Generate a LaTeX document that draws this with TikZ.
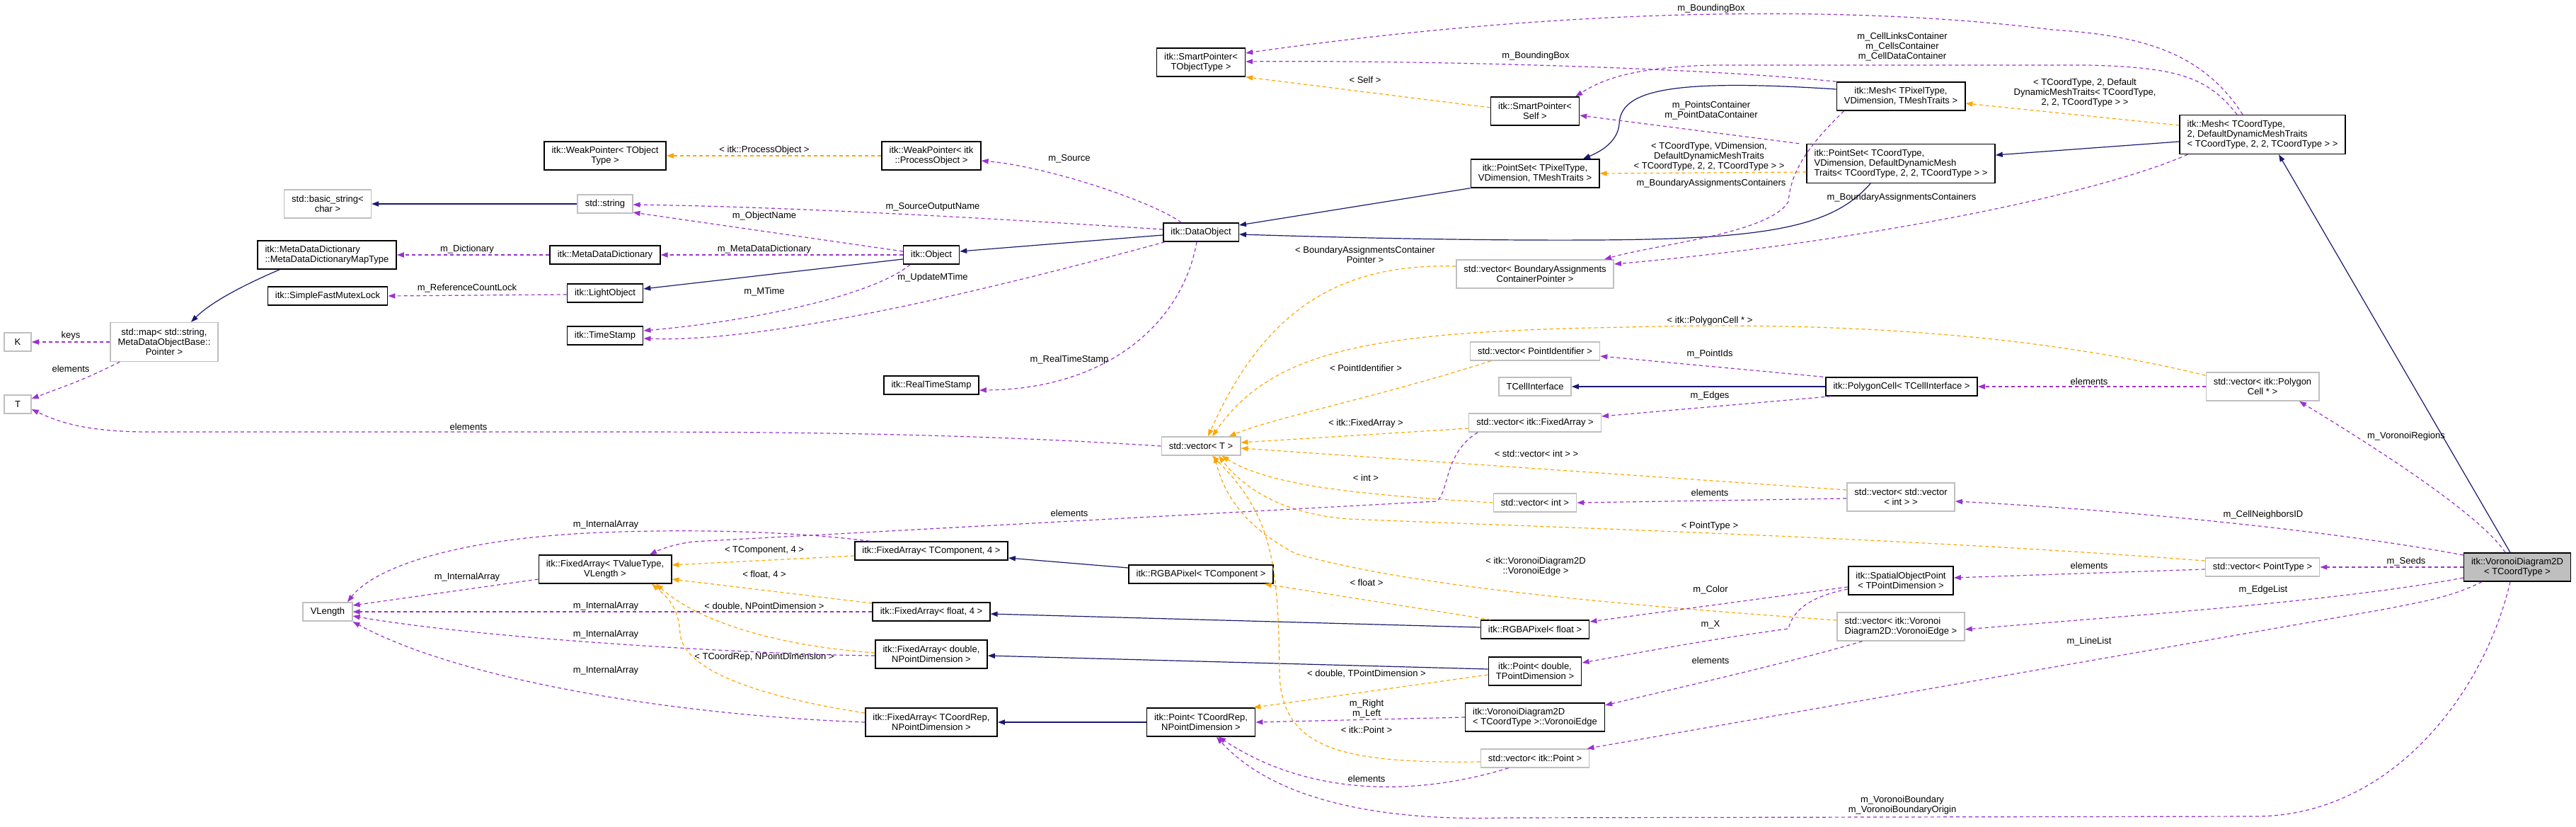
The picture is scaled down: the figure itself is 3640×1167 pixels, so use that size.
\documentclass[tikz,border=0pt]{standalone}
\usepackage{fontspec}
\setmainfont{Liberation Sans}
\usepackage{tikz}
\usetikzlibrary{arrows.meta}

\definecolor{inhcol}{HTML}{191970}
\definecolor{memcol}{HTML}{9A32CD}
\definecolor{tplcol}{HTML}{FFA500}
\definecolor{extcol}{HTML}{BFBFBF}
\newcommand{\dxfont}{\fontsize{6.5pt}{7pt}\selectfont}

\begin{document}
\begin{tikzpicture}[
      x=0.5pt, y=-0.5pt,
      >={Triangle[length=5pt, width=3.6pt]},
      cls/.style={rectangle, draw=black, line width=0.75pt, fill=white, font=\dxfont, align=center, inner xsep=5.3pt, inner ysep=1pt, minimum height=13pt},
      ext/.style={cls, draw=extcol},
      main/.style={cls, fill=extcol},
      two/.style={minimum height=20pt},
      three/.style={minimum height=27.5pt},
      inh/.style={->, draw=inhcol, line width=0.6pt},
      member/.style={->, draw=memcol, line width=0.6pt, dash pattern=on 2.5pt off 2pt},
      tpl/.style={->, draw=tplcol, line width=0.6pt, dash pattern=on 2.5pt off 2pt},
      lbl/.style={font=\dxfont, align=center, inner sep=0pt}
  ]
      \path[use as bounding box] (0,0) rectangle (3640,1167);

      % Classes
      \node[ext, minimum width=19pt] (nK) at (25,483) {K};
      \node[ext, minimum width=19pt] (nT) at (25,571) {T};
      \node[ext, three] (smap) at (232,483) {std::map< std::string,\\MetaDataObjectBase::\\Pointer >};
      \node[ext, two] (bstr) at (463,288) {std::basic\_string<\\char >};
      \node[cls, two, align=left] (mdmt) at (462,360) {itk::MetaDataDictionary\\::MetaDataDictionaryMapType};
      \node[cls] (sfml) at (463,418) {itk::SimpleFastMutexLock};
      \node[ext] (vlen) at (463,864) {VLength};
      \node[cls, two] (wpTO) at (855,220) {itk::WeakPointer< TObject\\Type >};
      \node[ext] (str) at (855,288) {std::string};
      \node[cls] (mdd) at (855,360) {itk::MetaDataDictionary};
      \node[cls] (lobj) at (855,414) {itk::LightObject};
      \node[cls] (tst) at (855,474) {itk::TimeStamp};
      \node[cls, two] (faTV) at (855,804) {itk::FixedArray< TValueType,\\VLength >};
      \node[cls, two] (wpPO) at (1316,220) {itk::WeakPointer< itk\\::ProcessObject >};
      \node[cls] (obj) at (1316,360) {itk::Object};
      \node[cls] (rts) at (1316,544) {itk::RealTimeStamp};
      \node[cls] (faTC4) at (1316,778) {itk::FixedArray< TComponent, 4 >};
      \node[cls] (faF4) at (1316,864) {itk::FixedArray< float, 4 >};
      \node[cls, two] (faDN) at (1316,924) {itk::FixedArray< double,\\NPointDimension >};
      \node[cls, two] (faCN) at (1316,1020) {itk::FixedArray< TCoordRep,\\NPointDimension >};
      \node[cls, two] (spTO) at (1697,88) {itk::SmartPointer<\\TObjectType >};
      \node[cls] (dobj) at (1697,328) {itk::DataObject};
      \node[ext] (vecT) at (1697,630) {std::vector< T >};
      \node[cls] (rgbTC) at (1697,811) {itk::RGBAPixel< TComponent >};
      \node[cls, two] (ptCN) at (1697,1020) {itk::Point< TCoordRep,\\NPointDimension >};
      \node[cls, two] (spS) at (2169,157) {itk::SmartPointer<\\Self >};
      \node[cls, two] (psTP) at (2169,245) {itk::PointSet< TPixelType,\\VDimension, TMeshTraits >};
      \node[ext, two] (vecBA) at (2169,387) {std::vector< BoundaryAssignments\\ContainerPointer >};
      \node[ext] (vecPI) at (2169,496) {std::vector< PointIdentifier >};
      \node[ext] (tci) at (2169,546) {TCellInterface};
      \node[ext] (vecFA) at (2169,597) {std::vector< itk::FixedArray >};
      \node[ext] (vecI) at (2169,710) {std::vector< int >};
      \node[cls] (rgbF) at (2169,889) {itk::RGBAPixel< float >};
      \node[cls, two] (ptDT) at (2169,948) {itk::Point< double,\\TPointDimension >};
      \node[cls, two, align=left] (vedge) at (2169,1013) {itk::VoronoiDiagram2D\\< TCoordType >::VoronoiEdge};
      \node[ext] (vecP) at (2169,1071) {std::vector< itk::Point >};
      \node[cls, two] (meshTP) at (2686,136) {itk::Mesh< TPixelType,\\VDimension, TMeshTraits >};
      \node[cls, three, align=left] (psTC) at (2686,231) {itk::PointSet< TCoordType,\\VDimension, DefaultDynamicMesh\\Traits< TCoordType, 2, 2, TCoordType > >};
      \node[cls] (pcell) at (2687,546) {itk::PolygonCell< TCellInterface >};
      \node[ext, two] (vecVI) at (2686,702) {std::vector< std::vector\\< int > >};
      \node[cls, two] (sop) at (2686,820) {itk::SpatialObjectPoint\\< TPointDimension >};
      \node[ext, two, align=left] (vecVE) at (2686,885) {std::vector< itk::Voronoi\\Diagram2D::VoronoiEdge >};
      \node[cls, three, align=left] (meshTC) at (3197,190) {itk::Mesh< TCoordType,\\2, DefaultDynamicMeshTraits\\< TCoordType, 2, 2, TCoordType > >};
      \node[ext, two] (vecPC) at (3197,546) {std::vector< itk::Polygon\\Cell * >};
      \node[ext] (vecPT) at (3197,801) {std::vector< PointType >};
      \node[main, two] (vd) at (3557,801) {itk::VoronoiDiagram2D\\< TCoordType >};

      % Inheritance
      \draw[inh] ([xshift=16pt]mdmt.south west) .. controls (350,400) and (300,425) .. ([xshift=19pt]smap.north);
      \draw[inh] (str.west) -- (bstr.east);
      \draw[inh] ([yshift=-3pt]obj.west) -- ([yshift=3pt]lobj.east);
      \draw[inh] ([yshift=-2pt]dobj.west) -- ([yshift=2.5pt]obj.east);
      \draw[inh] (psTP.south west) -- ([yshift=5pt]dobj.east);
      \draw[inh] ([xshift=-21.5pt]psTC.south) .. controls (2590,320) and (2500,338) .. (2250,339) .. controls (2050,340) and (1850,334) .. ([yshift=-1.5pt]dobj.east);
      \draw[inh] ([yshift=5pt]meshTP.west) .. controls (2350,110) and (2290,130) .. (2288,175) .. controls (2286,200) and (2262,214) .. ([xshift=34pt]psTP.north);
      \draw[inh] ([yshift=-5pt]meshTC.west) -- ([yshift=6pt]psTC.east);
      \draw[inh] (pcell.west) -- (tci.east);
      \draw[inh] ([yshift=4.5pt]rgbTC.west) -- ([yshift=-5pt]faTC4.east);
      \draw[inh] ([yshift=1.5pt]rgbF.west) -- ([yshift=-1.5pt]faF4.east);
      \draw[inh] ([yshift=1.5pt]ptDT.west) -- ([yshift=-1pt]faDN.east);
      \draw[inh] (ptCN.west) -- (faCN.east);
      \draw[inh] ([xshift=-5pt]vd.north) -- ([xshift=11.5pt]meshTC.south);

      % Template instances
      \draw[tpl] (wpPO.west) -- (wpTO.east);
      \draw[tpl] ([yshift=2.5pt]spS.west) -- (spTO.south east);
      \draw[tpl] ([yshift=6.5pt]meshTC.west) -- ([yshift=-5pt]meshTP.east);
      \draw[tpl] ([yshift=-6pt]psTC.west) -- (psTP.east);
      \draw[tpl] ([yshift=5.5pt]vecBA.west) .. controls (1900,372) and (1790,430) .. ([xshift=5pt]vecT.north);
      \draw[tpl] ([yshift=-2.5pt]vecPC.north west) .. controls (2850,465) and (2550,455) .. (2300,462) .. controls (1950,468) and (1800,490) .. ([xshift=8pt]vecT.north);
      \draw[tpl] ([xshift=15pt]vecPI.south west) .. controls (1950,560) and (1800,590) .. ([xshift=-8.5pt]vecT.north east);
      \draw[tpl] ([yshift=-4pt]vecFA.west) -- ([yshift=2.5pt]vecT.east);
      \draw[tpl] ([yshift=5pt]vecVI.west) -- ([yshift=-1.5pt]vecT.east);
      \draw[tpl] (vecI.west) .. controls (1950,700) and (1800,690) .. ([xshift=-13.5pt]vecT.south east);
      \draw[tpl] ([yshift=4.5pt]vecPT.west) .. controls (2700,760) and (2200,745) .. (1906,733) .. controls (1800,725) and (1750,680) .. ([xshift=12.5pt]vecT.south);
      \draw[tpl] ([yshift=4.5pt]vecVE.west) .. controls (2300,855) and (2000,830) .. (1831,782) .. controls (1760,745) and (1730,700) .. ([xshift=9.5pt]vecT.south);
      \draw[tpl] ([yshift=-2.5pt]vecP.west) .. controls (1900,1078) and (1810,1060) .. (1808,950) .. controls (1806,800) and (1800,730) .. ([xshift=8pt]vecT.south);
      \draw[tpl] ([yshift=-3.5pt]faTC4.west) -- ([yshift=3pt]faTV.east);
      \draw[tpl] ([yshift=6pt]faF4.west) -- ([yshift=-7pt]faTV.east);
      \draw[tpl] ([yshift=1pt]faDN.west) .. controls (1100,912) and (990,880) .. ([xshift=36pt]faTV.south);
      \draw[tpl] ([yshift=6.5pt]faCN.west) .. controls (1080,985) and (970,950) .. (961,897) .. controls (960,860) and (945,845) .. ([xshift=33pt]faTV.south);
      \draw[tpl] ([xshift=7.5pt]rgbF.north west) -- ([xshift=-6.5pt]rgbTC.south east);
      \draw[tpl] ([yshift=-2.5pt]ptDT.west) -- ([xshift=-1.5pt]ptCN.north east);

      % Members
      \draw[member] (smap.west) -- (nK.east);
      \draw[member] ([xshift=7pt]smap.south west) .. controls (120,535) .. ([yshift=4pt]nT.east);
      \draw[member] (mdd.west) -- (mdmt.east);
      \draw[member] ([yshift=-1pt]lobj.west) -- (sfml.east);
      \draw[member] ([xshift=-14pt]dobj.north) .. controls (1630,285) and (1480,235) .. ([yshift=-3.5pt]wpPO.east);
      \draw[member] ([yshift=2pt]dobj.west) .. controls (1350,305) and (1100,292) .. ([yshift=-0.5pt]str.east);
      \draw[member] ([yshift=2.5pt]obj.west) -- ([yshift=-6pt]str.east);
      \draw[member] (obj.west) -- (mdd.east);
      \draw[member] ([xshift=-15pt]obj.south) .. controls (1230,420) and (1050,455) .. ([yshift=3.5pt]tst.east);
      \draw[member] ([xshift=-25.5pt]dobj.south) .. controls (1450,395) and (1100,485) .. ([yshift=-2pt]tst.east);
      \draw[member] ([xshift=-3pt]dobj.south) .. controls (1670,460) and (1560,550) .. ([yshift=-3.5pt]rts.east);
      \draw[member] (vecT.west) .. controls (1300,608) and (1000,610) .. (700,610) -- (210,610) .. controls (120,610) and (80,595) .. ([yshift=-3.5pt]nT.east);
      \draw[member] ([xshift=-14pt]meshTC.north) .. controls (3110,70) and (3020,50) .. (2900,42) .. controls (2650,10) and (2250,5) .. ([yshift=6.5pt]spTO.east);
      \draw[member] (meshTP.north west) .. controls (2400,95) and (2000,85) .. ([yshift=0.5pt]spTO.east);
      \draw[member] ([xshift=-18pt]meshTC.north) .. controls (3120,110) and (3080,95) .. (2950,92) -- (2420,92) .. controls (2300,95) and (2260,115) .. ([xshift=-3pt]spS.north east);
      \draw[member] ([xshift=-5pt]psTC.north west) -- ([yshift=-3pt]spS.east);
      \draw[member] ([xshift=5.5pt]meshTP.south west) .. controls (2545,215) and (2530,250) .. (2527,285) .. controls (2500,330) and (2340,345) .. ([xshift=-7pt]vecBA.north east);
      \draw[member] ([xshift=6pt]meshTC.south west) .. controls (2950,280) and (2600,345) .. ([yshift=7pt]vecBA.east);
      \draw[member] ([xshift=-1.5pt]pcell.north west) -- ([yshift=-3.5pt]vecPI.east);
      \draw[member] (vecPC.west) -- (pcell.east);
      \draw[member] ([xshift=4pt]pcell.south west) -- ([yshift=4.5pt]vecFA.east);
      \draw[member] ([xshift=6.5pt]vecFA.south west) .. controls (2040,640) and (2048,695) .. (2030,708) -- (980,765) .. controls (955,768) and (935,775) .. ([xshift=31.5pt]faTV.north);
      \draw[member] ([yshift=-1pt]vecVI.west) -- (vecI.east);
      \draw[member] ([xshift=11pt]faTC4.north west) .. controls (1100,748) and (950,748) .. (850,752) .. controls (650,760) and (530,800) .. ([xshift=14pt]vlen.north);
      \draw[member] ([yshift=-7pt]faTV.west) -- ([yshift=4.5pt]vlen.east);
      \draw[member] (faF4.west) -- (vlen.east);
      \draw[member] ([yshift=-1pt]faDN.west) .. controls (1100,925) and (700,905) .. ([yshift=-3pt]vlen.east);
      \draw[member] (faCN.west) .. controls (950,1010) and (650,960) .. ([yshift=-7pt]vlen.east);
      \draw[member] (vedge.west) -- (ptCN.east);
      \draw[member] ([xshift=20pt]vecP.south west) .. controls (2000,1125) and (1850,1125) .. ([xshift=12.5pt]ptCN.south);
      \draw[member] ([xshift=-5pt]vd.south) .. controls (3510,980) and (3380,1150) .. (3191,1153) -- (2124,1155) .. controls (1950,1160) and (1800,1130) .. ([xshift=11pt]ptCN.south);
      \draw[member] ([xshift=-25pt]vd.south) .. controls (3460,845) and (3420,850) .. (3372,860) -- ([xshift=-2pt]vecP.north east);
      \draw[member] ([yshift=-7.5pt]vd.west) .. controls (3300,850) and (3000,870) .. ([yshift=-2pt]vecVE.east);
      \draw[member] (vd.west) -- (vecPT.east);
      \draw[member] ([yshift=8.5pt]vd.west) .. controls (3300,750) and (3000,720) .. ([yshift=-3pt]vecVI.east);
      \draw[member] ([xshift=-8.5pt]vd.north) .. controls (3500,720) and (3320,610) .. ([xshift=26pt]vecPC.south);
      \draw[member] ([yshift=-1.5pt]vecPT.west) -- ([yshift=2pt]sop.east);
      \draw[member] ([yshift=-4.5pt]sop.west) -- ([yshift=5.5pt]rgbF.east);
      \draw[member] ([yshift=-6pt]sop.west) .. controls (2545,845) and (2532,870) .. (2527,888) .. controls (2400,905) and (2300,925) .. ([yshift=6pt]ptDT.east);
      \draw[member] ([xshift=18pt]vecVE.south west) .. controls (2550,930) and (2400,965) .. ([yshift=8.5pt]vedge.east);

      % Labels
      \node[lbl] (lkeys) at (100,474) {keys};
      \node[lbl] (lmapel) at (100,521) {elements};
      \node[lbl] (ldict) at (660,352) {m\_Dictionary};
      \node[lbl] (llock) at (660,407) {m\_ReferenceCountLock};
      \node[lbl] (lvecel) at (662,603) {elements};
      \node[lbl] (lia1) at (856,741) {m\_InternalArray};
      \node[lbl] (lia2) at (660,815) {m\_InternalArray};
      \node[lbl] (lia3) at (856,856) {m\_InternalArray};
      \node[lbl] (lia4) at (856,896) {m\_InternalArray};
      \node[lbl] (lia5) at (856,947) {m\_InternalArray};
      \node[lbl] (lpo) at (1080,212) {< itk::ProcessObject >};
      \node[lbl] (lobjname) at (1080,305) {m\_ObjectName};
      \node[lbl] (lmdd) at (1080,352) {m\_MetaDataDictionary};
      \node[lbl] (lmtime) at (1080,412) {m\_MTime};
      \node[lbl] (ltc4) at (1080,777) {< TComponent, 4 >};
      \node[lbl] (lf4) at (1080,812) {< float, 4 >};
      \node[lbl] (ldn) at (1080,857) {< double, NPointDimension >};
      \node[lbl] (lcn) at (1080,928) {< TCoordRep, NPointDimension >};
      \node[lbl] (lson) at (1318,292) {m\_SourceOutputName};
      \node[lbl] (lumt) at (1318,392) {m\_UpdateMTime};
      \node[lbl] (lsrc) at (1511,224) {m\_Source};
      \node[lbl] (lrts) at (1511,508) {m\_RealTimeStamp};
      \node[lbl] (lfael) at (1511,725) {elements};
      \node[lbl] (lself) at (1929,113) {< Self >};
      \node[lbl] (lbacp) at (1929,360) {< BoundaryAssignmentsContainer\\Pointer >};
      \node[lbl] (lpid) at (1930,520) {< PointIdentifier >};
      \node[lbl] (lfa) at (1930,598) {< itk::FixedArray >};
      \node[lbl] (lint) at (1930,675) {< int >};
      \node[lbl] (lflt) at (1931,823) {< float >};
      \node[lbl] (ldtp) at (1931,952) {< double, TPointDimension >};
      \node[lbl] (lrl) at (1931,1001) {m\_Right\\m\_Left};
      \node[lbl] (lpt) at (1931,1031) {< itk::Point >};
      \node[lbl] (lptel) at (1931,1100) {elements};
      \node[lbl] (lbb2) at (2170,79) {m\_BoundingBox};
      \node[lbl] (lvint) at (2171,641) {< std::vector< int > >};
      \node[lbl] (lve) at (2170,800) {< itk::VoronoiDiagram2D\\::VoronoiEdge >};
      \node[lbl] (lbb1) at (2418,12) {m\_BoundingBox};
      \node[lbl] (lpc) at (2418,156) {m\_PointsContainer\\m\_PointDataContainer};
      \node[lbl] (lpsargs) at (2415,221) {< TCoordType, VDimension,\\DefaultDynamicMeshTraits\\< TCoordType, 2, 2, TCoordType > >};
      \node[lbl] (lbac1) at (2418,259) {m\_BoundaryAssignmentsContainers};
      \node[lbl] (lpoly) at (2416,453) {< itk::PolygonCell * >};
      \node[lbl] (lpids) at (2416,500) {m\_PointIds};
      \node[lbl] (ledges) at (2416,559) {m\_Edges};
      \node[lbl] (lviel) at (2416,696) {elements};
      \node[lbl] (lptype) at (2416,743) {< PointType >};
      \node[lbl] (lcolor) at (2417,833) {m\_Color};
      \node[lbl] (lx) at (2417,882) {m\_X};
      \node[lbl] (lveel) at (2417,933) {elements};
      \node[lbl] (lcells) at (2688,66) {m\_CellLinksContainer\\m\_CellsContainer\\m\_CellDataContainer};
      \node[lbl] (lbac2) at (2687,279) {m\_BoundaryAssignmentsContainers};
      \node[lbl] (lvb) at (2688,1137) {m\_VoronoiBoundary\\m\_VoronoiBoundaryOrigin};
      \node[lbl] (lmeshargs) at (2946,131) {< TCoordType, 2, Default\\DynamicMeshTraits< TCoordType,\\2, 2, TCoordType > >};
      \node[lbl] (lpcel) at (2952,539) {elements};
      \node[lbl] (lsopel) at (2952,799) {elements};
      \node[lbl] (lline) at (2952,906) {m\_LineList};
      \node[lbl] (lneigh) at (3198,727) {m\_CellNeighborsID};
      \node[lbl] (ledge) at (3198,833) {m\_EdgeList};
      \node[lbl] (lreg) at (3400,616) {m\_VoronoiRegions};
      \node[lbl] (lseeds) at (3400,793) {m\_Seeds};
  \end{tikzpicture}
\end{document}
